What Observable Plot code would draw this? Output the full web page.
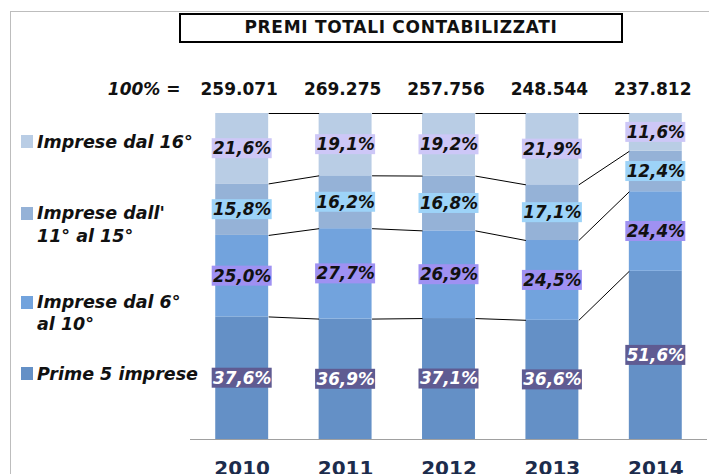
<!DOCTYPE html>
<html>
<head>
<meta charset="utf-8">
<script src="https://cdn.jsdelivr.net/npm/d3@7"></script>
<script src="https://cdn.jsdelivr.net/npm/@observablehq/plot@0.6"></script>
<style>
  body { margin: 0; background: #fff; font-family: "DejaVu Sans", Verdana, sans-serif; }
  #wrap { position: relative; width: 709px; height: 474px; overflow: hidden; background: #fff; }
  #chart { position: absolute; left: 0; top: 0; }
  #frame { position: absolute; left: 10px; top: 11px; right: -2px; bottom: -2px;
           border-left: 1px solid #bdbdbd; border-top: 1px solid #bdbdbd; }
  #title { position: absolute; left: 179px; top: 13px; width: 444px; height: 30px; box-sizing: border-box;
           border: 2.5px solid #000; background: #fff; text-align: center; font-weight: bold;
           font-size: 17px; line-height: 25px; letter-spacing: 0.7px; color: #111; }
  .leg { position: absolute; left: 37px; font-weight: bold; font-style: italic; font-size: 17.5px; color: #111; white-space: nowrap; }
  .sw { position: absolute; left: 21px; width: 12px; height: 13px; }
</style>
</head>
<body>
<div id="wrap">
  <div id="frame"></div>
  <div id="chart"></div>
  <div id="title">PREMI TOTALI CONTABILIZZATI</div>
  <div id="legend"></div>
</div>
<script>
// ---- data ----
const years = [2010, 2011, 2012, 2013, 2014];
const totals = ["259.071", "269.275", "257.756", "248.544", "237.812"];
const series = ["Prime 5 imprese", "Imprese dal 6° al 10°", "Imprese dall' 11° al 15°", "Imprese dal 16°"];
const prime5 = [37.6, 36.9, 37.1, 36.6, 51.6];
const dal6al10 = [25.0, 27.7, 26.9, 24.5, 24.4];
const dal11al15 = [15.8, 16.2, 16.8, 17.1, 12.4];
const dal16 = [21.6, 19.1, 19.2, 21.9, 11.6];
const legendLines = [["Prime 5 imprese"], ["Imprese dal 6°", "al 10°"], ["Imprese dall'", "11° al 15°"], ["Imprese dal 16°"]];

// ---- styles ----
const segColors = ["#6490c6", "#72a3dd", "#95b2d7", "#b9cde5"];
const labelBg = ["#5f5b92", "#9f91f2", "#9dd3f8", "#cdc7f7"];
const labelFg = ["#ffffff", "#111111", "#111111", "#111111"];
const hw = 0.256;   // bar half width (year units)

// ---- build stacked table (100% stacked) ----
const valuesBySeries = [prime5, dal6al10, dal11al15, dal16];
const segments = [];
const bounds = [];
years.forEach((year, i) => {
  const vals = valuesBySeries.map(s => s[i]);
  const sum = d3.sum(vals);
  let acc = 0;
  const b = [];
  vals.forEach((v, k) => {
    const y1 = acc / sum * 100;
    acc += v;
    const y2 = acc / sum * 100;
    b.push(y2);
    segments.push({year, k, series: series[k], value: v, y1, y2, mid: (y1 + y2) / 2,
      label: v.toFixed(1).replace(".", ",") + "%"});
  });
  bounds.push(b);
});
const links = [];
for (let i = 0; i < years.length - 1; i++) {
  for (let k = 0; k < series.length; k++) {
    links.push({xa: years[i], xb: years[i + 1], ya: bounds[i][k], yb: bounds[i + 1][k]});
  }
}
const totalRows = years.map((y, i) => ({year: y, total: totals[i]}));

const chart = Plot.plot({
  width: 709,
  height: 474,
  marginTop: 113,
  marginBottom: 35,
  marginLeft: 190,
  marginRight: 2,
  x: {type: "linear", domain: [2009.5, 2014.5], axis: null},
  y: {domain: [0, 100], axis: null},
  color: {type: "identity"},
  style: {fontFamily: "DejaVu Sans, Verdana, sans-serif", background: "transparent", overflow: "visible"},
  marks: [
    Plot.rect(segments, {x1: d => d.year - hw, x2: d => d.year + hw, y1: "y1", y2: "y2", fill: d => segColors[d.k]}),
    Plot.link(links, {x1: d => d.xa + hw, x2: d => d.xb - hw, y1: "ya", y2: "yb", stroke: "#000", strokeWidth: 1}),
    Plot.ruleY([0], {stroke: "#a0a0a0", strokeWidth: 1.2}),
    Plot.rect(segments, {x1: "year", x2: "year", y1: "mid", y2: "mid",
      insetLeft: -30, insetRight: -30, insetTop: -10, insetBottom: -10, fill: d => labelBg[d.k]}),
    Plot.text(segments, {x: "year", y: "mid", text: "label", fill: d => labelFg[d.k],
      fontWeight: "bold", fontStyle: "italic", fontSize: 16.8}),
    Plot.text(totalRows, {x: "year", text: "total", frameAnchor: "top", dy: -31, dx: -3,
      fontWeight: "bold", fontSize: 17, fill: "#111"}),
    Plot.text(["100% ="], {text: d => d, frameAnchor: "top-left", dx: -10, dy: -31, textAnchor: "end",
      fontWeight: "bold", fontStyle: "italic", fontSize: 17, fill: "#111"}),
    Plot.text(years, {x: d => d, text: d => String(d), frameAnchor: "bottom", dy: 35,
      fontWeight: "bold", fontSize: 20, fill: "#1c2c4c"})
  ]
});
document.getElementById("chart").appendChild(chart);

// ---- legend (HTML) ----
const legTops = [362.8, 290.8, 202.3, 130.8];
const legLH = [22, 22, 23, 22];
const swTops = [367, 296, 207, 135];
const legend = document.getElementById("legend");
series.forEach((s, k) => {
  const sw = document.createElement("div");
  sw.className = "sw";
  sw.style.top = swTops[k] + "px";
  sw.style.background = segColors[k];
  legend.appendChild(sw);
  const t = document.createElement("div");
  t.className = "leg";
  t.style.top = legTops[k] + "px";
  t.style.lineHeight = legLH[k] + "px";
  t.innerHTML = legendLines[k].join("<br>");
  legend.appendChild(t);
});
</script>
</body>
</html>
